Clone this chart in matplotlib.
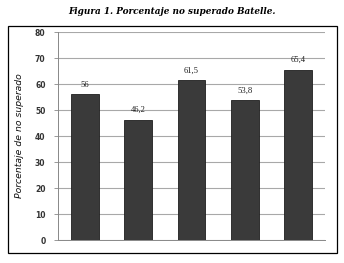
import matplotlib.pyplot as plt
from matplotlib.patches import Rectangle

categories = ['1', '2', '3', '4', '5']
values = [56, 46.2, 61.5, 53.8, 65.4]
labels = ['56', '46,2', '61,5', '53,8', '65,4']
yticks = [0, 10, 20, 30, 40, 50, 60, 70, 80]

W, H = 344, 263
fig = plt.figure(figsize=(W / 100, H / 100), dpi=100)
ax = fig.add_axes([58 / W, 1 - 240 / H, 267 / W, 208 / H])

x = range(len(categories))
ax.bar(x, values, width=0.52, color='#3a3a3a', edgecolor='#1e1e1e', linewidth=0.6, zorder=3)
for xi, v, t in zip(x, values, labels):
    ax.text(xi, v + 2.2, t, ha='center', va='bottom', fontsize=6.2,
            family='Liberation Serif', color='#222222')

ax.set_xlim(-0.5, len(categories) - 0.5)
ax.set_ylim(0, 80)
ax.set_yticks(yticks)
ax.set_yticklabels([str(t) for t in yticks], fontsize=5.5, fontweight='bold', color='#333333')
ax.set_xticks([])
ax.yaxis.grid(True, color='#a8a8a8', linewidth=0.8, zorder=0)
ax.tick_params(axis='y', length=3, width=0.6, color='#888888', pad=6)
for s in ['top', 'right']:
    ax.spines[s].set_visible(False)
ax.spines['left'].set_color('#888888')
ax.spines['bottom'].set_color('#888888')
ax.spines['left'].set_linewidth(0.7)
ax.spines['bottom'].set_linewidth(0.7)

ax.set_ylabel('Porcentaje de no superado', fontsize=6.7, style='italic', color='#111111', labelpad=8)

# outer frame around the chart
fig.patches.append(Rectangle((8 / W, 1 - 253 / H), 329 / W, 227 / H, transform=fig.transFigure,
                             fill=False, edgecolor='black', linewidth=0.9))

fig.text(0.5, 1 - 11 / H, 'Figura 1. Porcentaje no superado Batelle.', ha='center', va='center',
         fontsize=6.4, style='italic', fontweight='bold', family='DejaVu Serif')

fig.savefig('out.png', dpi=100)
